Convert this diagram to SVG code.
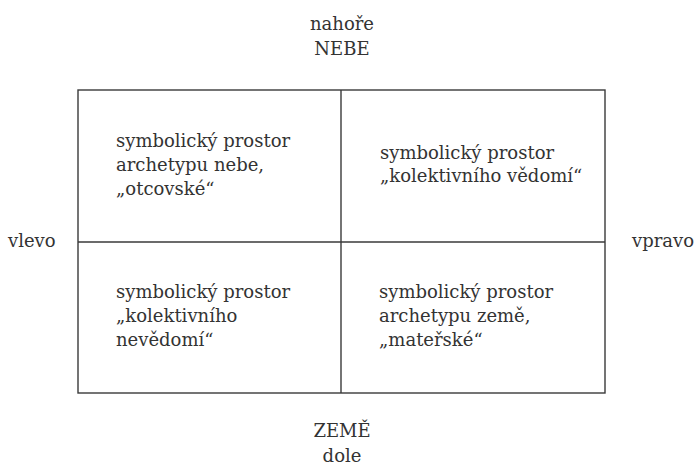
<svg xmlns="http://www.w3.org/2000/svg" width="697" height="466" viewBox="0 0 697 466">
<style>
text{font-family:"DejaVu Serif","Liberation Serif",serif;font-size:18px;fill:#333}
.c{text-anchor:middle}
.ln{stroke:#3a3a3a;stroke-width:1.4;fill:none}
</style>
<rect width="697" height="466" fill="#fff"/>
<g id="frame">
<rect class="ln" x="78" y="90" width="527" height="303"/>
</g>
<g id="connectors">
<line class="ln" x1="341" y1="90" x2="341" y2="393"/>
<line class="ln" x1="78" y1="242" x2="605" y2="242"/>
</g>
<g id="top"><text class="c" x="342" y="30">nahoře</text><text class="c" x="342" y="55">NEBE</text></g>
<g id="bottom"><text class="c" x="342" y="437">ZEMĚ</text><text class="c" x="342" y="462">dole</text></g>
<g id="left"><text x="8" y="247">vlevo</text></g>
<g id="right"><text x="632" y="247">vpravo</text></g>
<g id="tl"><text x="116" y="147">symbolický prostor</text><text x="116" y="171">archetypu nebe,</text><text x="116" y="195">„otcovské“</text></g>
<g id="tr"><text x="380" y="159">symbolický prostor</text><text x="380" y="182">„kolektivního vědomí“</text></g>
<g id="bl"><text x="116" y="298">symbolický prostor</text><text x="116" y="322">„kolektivního</text><text x="116" y="346">nevědomí“</text></g>
<g id="br"><text x="379" y="298">symbolický prostor</text><text x="379" y="322">archetypu země,</text><text x="379" y="346">„mateřské“</text></g>
</svg>
